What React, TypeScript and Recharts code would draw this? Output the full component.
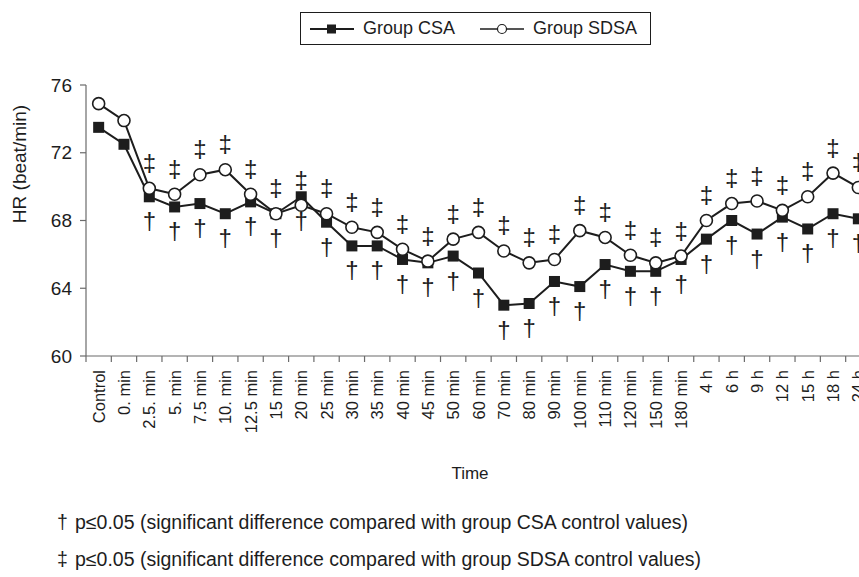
import React from 'react';
import { LineChart, Line, XAxis, YAxis, LabelList } from 'recharts';

const categories = [
  'Control', '0. min', '2.5. min', '5. min', '7.5 min', '10. min', '12.5 min', '15 min',
  '20 min', '25 min', '30 min', '35 min', '40 min', '45 min', '50 min', '60 min', '70 min',
  '80 min', '90 min', '100 min', '110 min', '120 min', '150 min', '180 min',
  '4 h', '6 h', '9 h', '12 h', '15 h', '18 h', '24 h',
];

const csaValues = [
  73.5, 72.5, 69.4, 68.8, 69.0, 68.4, 69.1, 68.4, 69.4, 67.9,
  66.5, 66.5, 65.7, 65.5, 65.9, 64.9, 63.0, 63.1, 64.4, 64.1,
  65.4, 65.0, 65.0, 65.7, 66.9, 68.0, 67.2, 68.2, 67.5, 68.4, 68.1,
];

const sdsaValues = [
  74.9, 73.9, 69.9, 69.55, 70.7, 71.0, 69.55, 68.4, 68.9, 68.4,
  67.6, 67.3, 66.3, 65.6, 66.9, 67.3, 66.2, 65.5, 65.7, 67.4,
  67.0, 65.95, 65.5, 65.9, 68.0, 69.0, 69.15, 68.6, 69.4, 70.8, 69.95,
];

// significance vs control (1 = p<=0.05)
const csaSig = [0, 0, 1, 1, 1, 1, 1, 1, 1, 1, 1, 1, 1, 1, 1, 1, 1, 1, 1, 1, 1, 1, 1, 1, 1, 1, 1, 1, 1, 1, 1];
const sdsaSig = [0, 0, 1, 1, 1, 1, 1, 1, 1, 1, 1, 1, 1, 1, 1, 1, 1, 1, 1, 1, 1, 1, 1, 1, 1, 1, 1, 1, 1, 1, 1];

const yTicks = [60, 64, 68, 72, 76];

const data = categories.map((name, i) => ({
  name,
  csa: csaValues[i],
  sdsa: sdsaValues[i],
}));

const FONT = '"Liberation Sans", Arial, Helvetica, sans-serif';
const INK = '#1d1d1d';
const AXIS = '#6b6b6b';

const PLOT_W = 785;
const BAND = PLOT_W / categories.length;

function TimeTick(props: any) {
  const { x, y, payload, index } = props;
  const left = x - BAND / 2;
  const right = x + BAND / 2;
  return (
    <g>
      <line x1={left} y1={y} x2={left} y2={y + 6} stroke={AXIS} strokeWidth={1.2} />
      {index === categories.length - 1 && (
        <line x1={right} y1={y} x2={right} y2={y + 6} stroke={AXIS} strokeWidth={1.2} />
      )}
      <text
        x={x}
        y={y + 14}
        transform={`rotate(-90, ${x}, ${y + 14})`}
        textAnchor="end"
        dominantBaseline="central"
        fontSize={16.5}
        fontFamily={FONT}
        fill={INK}
      >
        {payload.value}
      </text>
    </g>
  );
}

const squareDot = (p: any) => (
  <rect key={`sq-${p.index}`} x={p.cx - 5.5} y={p.cy - 5.5} width={11} height={11} fill={INK} />
);

const circleDot = (p: any) => (
  <circle key={`ci-${p.index}`} cx={p.cx} cy={p.cy} r={6} fill="#fff" stroke={INK} strokeWidth={1.6} />
);

const dagger = (p: any) => {
  if (!csaSig[p.index]) return null;
  return (
    <text x={p.x} y={p.y + 24} textAnchor="middle" dominantBaseline="central"
      fontSize={24} fontFamily={FONT} fill={INK}>†</text>
  );
};

const doubleDagger = (p: any) => {
  if (!sdsaSig[p.index]) return null;
  return (
    <text x={p.x} y={p.y - 26} textAnchor="middle" dominantBaseline="central"
      fontSize={24} fontFamily={FONT} fill={INK}>‡</text>
  );
};

export default function App() {
  return (
    <div style={{ position: 'absolute', left: 0, top: 0, width: 859, height: 577, overflow: 'hidden', background: '#fff', fontFamily: FONT, color: INK }}>
      {/* legend */}
      <div style={{
        position: 'absolute', left: 300, top: 12, width: 351, height: 33, boxSizing: 'border-box',
        border: `1.5px solid ${INK}`, display: 'flex', alignItems: 'center', fontSize: 18,
      }}>
        <svg width={48} height={14} style={{ marginLeft: 8 }}>
          <line x1={1} y1={7} x2={45} y2={7} stroke={INK} strokeWidth={2} />
          <rect x={18} y={2.5} width={9} height={9} fill={INK} />
        </svg>
        <span style={{ marginLeft: 6 }}>Group CSA</span>
        <svg width={48} height={14} style={{ marginLeft: 24 }}>
          <line x1={1} y1={7} x2={45} y2={7} stroke={INK} strokeWidth={1.5} />
          <circle cx={23} cy={7} r={4.5} fill="#fff" stroke={INK} strokeWidth={1.2} />
        </svg>
        <span style={{ marginLeft: 6 }}>Group SDSA</span>
      </div>

      <LineChart width={900} height={577} data={data} margin={{ top: 85, right: 29, left: 0, bottom: 0 }}>
        <XAxis
          dataKey="name"
          interval={0}
          padding={{ left: BAND / 2, right: BAND / 2 }}
          tickLine={false}
          tickSize={0}
          tickMargin={0}
          height={221}
          axisLine={{ stroke: AXIS, strokeWidth: 1.2 }}
          tick={<TimeTick />}
        />
        <YAxis
          domain={[60, 76]}
          ticks={yTicks}
          width={86}
          tickSize={6}
          tickMargin={8}
          axisLine={{ stroke: AXIS, strokeWidth: 1.2 }}
          tickLine={{ stroke: AXIS, strokeWidth: 1.2 }}
          tick={{ fontSize: 19, fill: INK, fontFamily: FONT }}
        />
        <Line dataKey="csa" stroke={INK} strokeWidth={2} dot={squareDot} isAnimationActive={false}>
          <LabelList dataKey="csa" content={dagger} />
        </Line>
        <Line dataKey="sdsa" stroke={INK} strokeWidth={2} dot={circleDot} isAnimationActive={false}>
          <LabelList dataKey="sdsa" content={doubleDagger} />
        </Line>
      </LineChart>

      <div style={{ position: 'absolute', left: 20, top: 164, transform: 'translate(-50%, -50%) rotate(-90deg)', whiteSpace: 'nowrap', fontSize: 19 }}>
        HR (beat/min)
      </div>
      <div style={{ position: 'absolute', left: 470, top: 474, transform: 'translate(-50%, -50%)', fontSize: 17 }}>
        Time
      </div>
      <div style={{ position: 'absolute', left: 57, top: 511, fontSize: 19.5, whiteSpace: 'nowrap' }}>
        <span style={{ display: 'inline-block', width: 18 }}>†</span>p≤0.05 (significant difference compared with group CSA control values)
      </div>
      <div style={{ position: 'absolute', left: 57, top: 548, fontSize: 19.5, whiteSpace: 'nowrap' }}>
        <span style={{ display: 'inline-block', width: 18 }}>‡</span>p≤0.05 (significant difference compared with group SDSA control values)
      </div>
    </div>
  );
}
